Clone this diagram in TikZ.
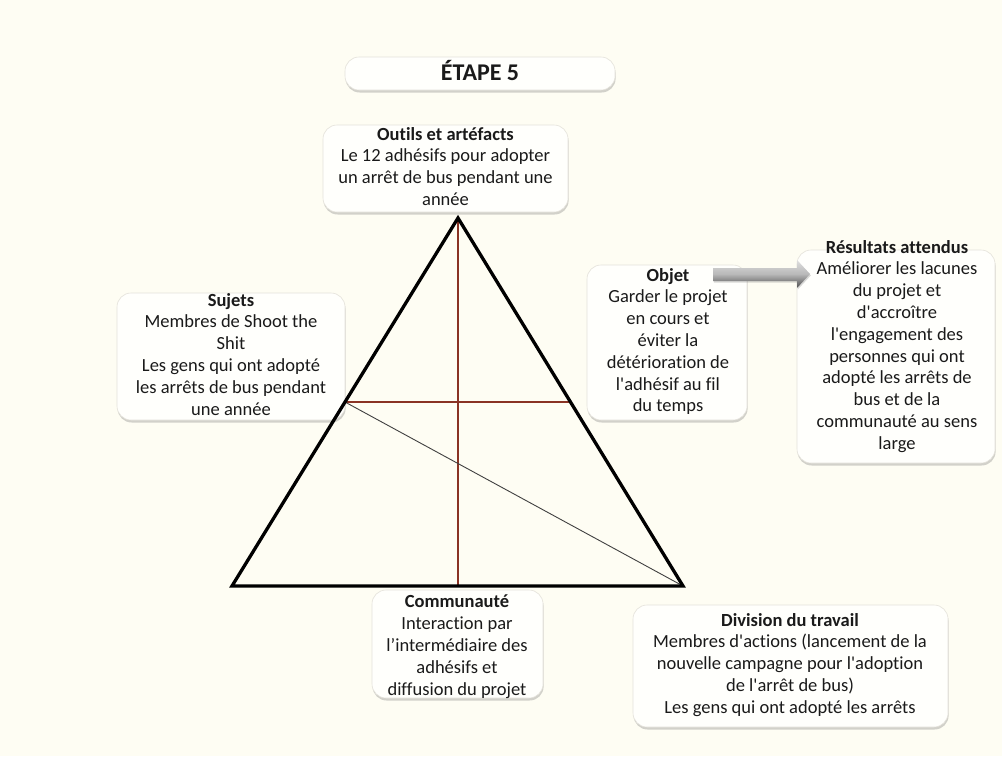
\documentclass[tikz,border=0pt]{standalone}
\usepackage{fontspec}
\newfontfamily\cf{Carlito}[Ligatures=NoCommon]
\usetikzlibrary{shadows,calc}
\definecolor{bg}{HTML}{FEFDF3}
\definecolor{boxfill}{HTML}{FFFFFC}
\definecolor{boxline}{HTML}{E4E2DA}
\definecolor{redline}{HTML}{8A3324}
\definecolor{txt}{HTML}{1A1A1A}
\begin{document}
\begin{tikzpicture}[x=1pt,y=-1pt,
  box/.style={draw=boxline, fill=boxfill, rounded corners=14pt, line width=0.6pt,
    inner sep=0pt, outer sep=0pt,
    drop shadow={shadow xshift=0.6pt, shadow yshift=-2.5pt, opacity=0.35, fill=gray}},
  label/.style={align=center, inner sep=0pt, anchor=north, text=txt,
    font=\cf\fontsize{18.5}{21.8}\selectfont},
  side/.style={line width=3.3pt, line join=miter},
  redl/.style={draw=redline, line width=1.1pt},
  diag/.style={draw=black!75, line width=0.9pt},
]
\useasboundingbox (0,0) rectangle (1002,756);
\fill[bg] (0,0) rectangle (1002,756);

% boxes
\node[box, minimum width=270pt, minimum height=33pt] (bE) at (480,73.5) {};
\node[box, minimum width=245pt, minimum height=87pt] (bO) at (445.5,168.5) {};
\node[box, minimum width=228pt, minimum height=127pt] (bS) at (231,356.5) {};
\node[box, minimum width=160pt, minimum height=155pt] (bJ) at (667,342.5) {};
\node[box, minimum width=198pt, minimum height=213pt] (bR) at (896,356.5) {};
\node[box, minimum width=171pt, minimum height=108pt] (bC) at (457.5,644) {};
\node[box, minimum width=315pt, minimum height=122pt] (bD) at (790.5,666) {};

% arrow
\shade[top color=gray!25, bottom color=black!70, middle color=gray!55,
  drop shadow={shadow xshift=0.8pt, shadow yshift=-1.5pt, opacity=0.3}]
  (713,268) -- (797,268) -- (797,260) -- (810,274) -- (797,288) -- (797,281) -- (713,281) -- cycle;

% triangle
\coordinate (A) at (458,218);
\coordinate (B) at (232,586);
\coordinate (C) at (683,586);
\coordinate (M) at ($(A)!0.5!(B)$);
\coordinate (N) at ($(A)!0.5!(C)$);
\coordinate (F) at (458,586);
\draw[redl] (A) -- (F);
\draw[redl] (M) -- (N);
\draw[diag] (M) -- (C);
\draw[side] (A) -- (B) -- (C) -- cycle;

% texts
\node[text=txt, font=\cf\bfseries\fontsize{24}{28}\selectfont] (tE) at (480,70) {ÉTAPE 5};
\node[label] (tO) at (445.5,127) {\textbf{Outils et artéfacts}\\Le 12 adhésifs pour adopter\\un arrêt de bus pendant une\\année};
\node[label] (tS) at (231,293) {\textbf{Sujets}\\Membres de Shoot the\\Shit\\Les gens qui ont adopté\\les arrêts de bus pendant\\une année};
\node[label] (tJ) at (668,268) {\textbf{Objet}\\Garder le projet\\en cours et\\éviter la\\détérioration de\\l'adhésif au fil\\du temps};
\node[label] (tR) at (897,240) {\textbf{Résultats attendus}\\Améliorer les lacunes\\du projet et\\d'accroître\\l'engagement des\\personnes qui ont\\adopté les arrêts de\\bus et de la\\communauté au sens\\large};
\node[label] (tC) at (457,595) {\textbf{Communauté}\\Interaction par\\l’intermédiaire des\\adhésifs et\\diffusion du projet};
\node[label] (tD) at (790,613) {\textbf{Division du travail}\\Membres d'actions (lancement de la\\nouvelle campagne pour l'adoption\\de l'arrêt de bus)\\Les gens qui ont adopté les arrêts};
\end{tikzpicture}
\end{document}
